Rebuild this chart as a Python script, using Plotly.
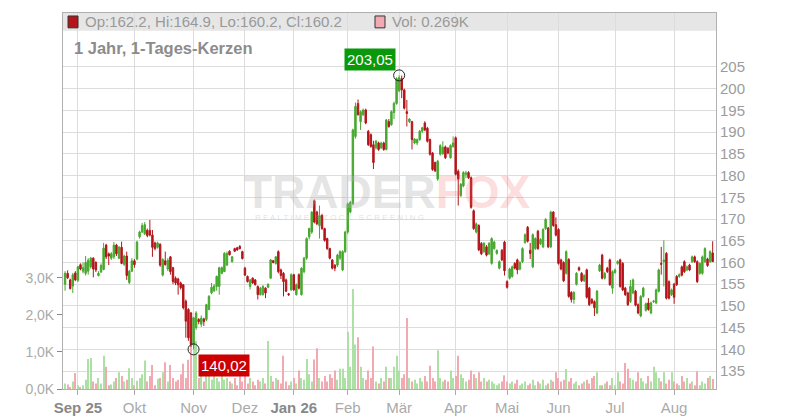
import pandas as pd
import plotly.graph_objects as go

# trading days (weekends and exchange holidays removed)
HOLIDAYS = ['2025-12-24', '2025-12-25', '2025-12-26', '2025-12-31',
            '2026-01-01', '2026-04-03', '2026-04-06', '2026-05-01']
dates = pd.bdate_range('2025-08-25', '2026-08-24')
dates = dates[~dates.isin(pd.to_datetime(HOLIDAYS))]

MONTH_LABELS = ['<b style="color:#888">Sep 25</b>', 'Okt', 'Nov', 'Dez', '<b style="color:#888">Jan 26</b>',
                'Feb', 'Mär', 'Apr', 'Mai', 'Jun', 'Jul', 'Aug']
PRICE_TICKS = [135, 140, 145, 150, 155, 160, 165, 170, 175, 180, 185, 190, 195, 200, 205]
VOL_TICKS = [0, 1, 2, 3]
VOL_LABELS = ['0,0K', '1,0K', '2,0K', '3,0K']

opens = [
    # Aug/Sep
    155.0, 157.5, 156.0, 154.6, 157.6, 155.9, 159.5, 158.0, 157.5, 158.0,
    159.0, 161.0, 160.0, 157.0, 157.8, 158.4, 164.0, 162.0, 161.0, 161.3,
    164.0, 161.0, 163.5, 159.6, 161.5, 155.4, 158.0,
    # Okt/Nov
    160.4, 160.8, 165.9, 167.0, 166.6, 167.4, 167.4, 166.3, 164.5, 163.5,
    164.2, 157.1, 160.4, 158.5, 161.3, 158.8, 156.4, 156.2, 155.3, 154.9,
    151.1, 149.2, 148.4, 141.0, 145.0, 146.9, 145.8, 147.0, 146.9, 149.2,
    153.0, 153.5, 154.5, 154.5, 157.5, 157.9, 159.4, 162.6, 160.2, 163.2,
    163.4, 163.7, 162.5, 158.7, 156.8, 154.5, 156.4, 156.0, 154.5, 152.6,
    152.6, 154.1, 154.3, 156.4, 160.4,
    # Dez/Jan/Feb
    159.8, 162.5, 158.3, 157.5, 156.0, 152.8, 153.7, 157.2, 152.6, 157.2,
    152.6, 157.9, 161.0, 165.9, 167.0, 174.2, 171.6, 168.5, 170.8, 167.8,
    165.5, 163.2, 160.6, 159.4, 159.4, 161.0, 158.3, 162.5, 167.0, 171.6,
    173.5, 189.0, 196.6, 192.4, 194.0, 195.1, 190.2, 189.4, 187.1, 186.4,
    187.5, 186.4, 187.5, 186.0,
    # Feb/Mär/Apr
    192.4, 191.7, 194.5, 196.6, 199.5, 202.3, 199.7, 194.7, 192.4, 192.4,
    187.5, 187.5, 188.3, 190.2, 192.1, 190.9, 188.3, 185.2, 183.0, 179.2,
    184.9, 185.0, 186.6, 186.3, 184.1, 186.7, 188.7, 181.0, 175.4, 177.6,
    180.3, 180.7, 179.5, 171.9, 167.0, 168.5, 164.4, 162.5, 163.6, 162.0,
    # Apr-Jul
    159.8, 163.2, 162.1, 158.7, 162.8, 164.7, 155.6, 156.4, 156.8, 159.8,
    160.6, 158.5, 160.2, 164.6, 168.1, 162.8, 159.0, 163.2, 167.2, 164.3,
    163.6, 167.8, 167.9, 163.6, 171.6, 168.7, 167.6, 160.6, 160.0, 157.5,
    160.7, 153.1, 151.5, 155.0, 158.8, 157.5, 155.8, 158.3, 154.1, 151.5,
    151.0, 148.4, 158.1, 161.7, 156.4, 158.7, 160.6, 154.1, 157.7, 159.8,
    160.6, 159.8, 154.1, 153.0, 151.0, 153.0, 153.4, 150.3, 147.7, 152.2,
    149.0, 150.7, 148.4, 151.0, 150.7, 153.4, 159.8, 160.2,
    # Jul/Aug
    162.1, 155.6, 152.6, 155.0, 156.8, 156.8, 159.0, 160.2, 158.3, 159.4,
    160.2, 161.3, 160.2, 157.5, 157.5, 160.2, 160.8, 160.2, 162.2,
]

highs = [
    158.0, 158.2, 156.3, 157.6, 158.0, 159.2, 159.8, 160.0, 161.5, 161.0,
    161.3, 161.2, 160.3, 158.0, 159.8, 164.5, 164.3, 162.3, 162.4, 164.7,
    164.3, 163.8, 164.8, 161.8, 162.5, 158.3, 161.0,
    160.8, 165.0, 167.3, 169.1, 169.3, 167.8, 169.8, 167.5, 164.8, 164.8,
    164.4, 161.0, 162.5, 161.0, 161.5, 159.0, 156.8, 156.5, 155.6, 155.0,
    151.5, 149.5, 148.6, 147.5, 148.8, 147.2, 147.8, 147.3, 150.5, 152.5,
    155.3, 155.0, 157.0, 159.0, 159.1, 162.4, 162.5, 162.8, 161.5, 163.4,
    163.6, 164.0, 162.7, 159.0, 157.0, 156.2, 156.6, 156.2, 154.7, 154.4,
    154.8, 154.3, 155.2, 160.8, 160.6,
    161.5, 162.8, 158.6, 157.8, 156.3, 153.0, 157.5, 157.4, 155.2, 157.5,
    158.9, 161.3, 165.8, 168.0, 171.8, 174.5, 171.9, 173.1, 171.2, 168.0,
    165.7, 163.4, 160.8, 159.6, 162.0, 162.8, 162.8, 167.3, 173.8, 174.2,
    190.8, 196.8, 197.5, 195.0, 195.4, 195.4, 190.5, 189.7, 188.0, 188.2,
    187.8, 187.8, 187.8, 193.0,
    193.0, 195.0, 197.0, 202.6, 203.05, 203.0, 200.0, 197.4, 193.2, 192.6,
    188.6, 188.5, 190.5, 191.2, 192.5, 191.2, 188.5, 185.4, 183.2, 183.6,
    187.2, 187.9, 186.9, 186.5, 187.2, 189.0, 189.0, 181.4, 178.3, 181.0,
    181.1, 181.0, 179.8, 172.2, 169.2, 168.8, 164.7, 164.7, 164.0, 164.7,
    165.8, 165.0, 163.0, 160.5, 163.1, 165.0, 155.9, 158.8, 159.3, 160.1,
    160.9, 160.3, 163.5, 166.7, 168.4, 164.5, 166.7, 165.8, 167.5, 165.6,
    167.9, 170.2, 168.2, 171.9, 171.8, 170.4, 167.9, 160.9, 160.3, 162.8,
    161.0, 153.4, 153.4, 157.8, 159.1, 157.8, 157.3, 158.6, 154.4, 151.8,
    151.3, 153.7, 159.7, 162.0, 157.8, 159.0, 160.9, 158.2, 158.6, 160.5,
    160.9, 160.1, 154.4, 153.3, 156.0, 156.3, 153.7, 150.6, 152.5, 154.4,
    150.8, 151.8, 151.0, 151.4, 154.0, 158.6, 163.6, 165.1,
    162.4, 155.9, 154.0, 155.3, 157.1, 157.5, 159.3, 160.5, 159.3, 159.7,
    161.6, 161.6, 160.5, 160.0, 161.6, 163.5, 161.1, 162.8, 164.9,
]

lows = [
    153.5, 156.2, 153.8, 153.0, 155.7, 155.5, 158.2, 157.5, 157.0, 157.2,
    158.6, 156.6, 157.8, 156.8, 157.6, 158.2, 160.8, 159.4, 160.6, 160.8,
    161.5, 160.8, 159.6, 159.2, 156.0, 155.0, 157.8,
    158.8, 160.5, 165.5, 166.8, 166.3, 165.8, 166.0, 161.3, 162.8, 163.2,
    159.0, 156.8, 159.3, 158.0, 157.2, 155.0, 154.8, 152.6, 153.8, 149.2,
    142.7, 142.0, 140.6, 140.02, 144.5, 145.8, 145.2, 145.4, 146.5, 149.0,
    152.7, 153.2, 153.5, 152.6, 157.3, 157.8, 159.2, 161.6, 160.0, 162.4,
    162.7, 163.0, 160.7, 156.9, 155.4, 153.8, 155.1, 154.7, 151.5, 152.4,
    152.4, 151.8, 154.1, 156.2, 159.8,
    159.5, 157.5, 156.2, 152.2, 153.2, 152.3, 153.5, 153.5, 152.4, 153.8,
    152.4, 157.5, 160.6, 165.3, 166.6, 169.0, 168.6, 165.5, 167.5, 164.8,
    162.9, 160.7, 158.4, 158.0, 159.0, 160.6, 158.0, 162.2, 166.6, 171.3,
    173.2, 188.5, 193.8, 190.5, 193.7, 191.8, 186.8, 186.4, 181.5, 186.0,
    185.7, 186.1, 185.7, 185.8,
    191.0, 191.5, 193.0, 196.3, 199.2, 197.8, 195.2, 191.3, 192.1, 186.0,
    187.2, 187.0, 188.0, 189.8, 190.2, 187.6, 184.6, 181.1, 180.8, 178.8,
    184.6, 184.8, 183.8, 184.9, 183.9, 186.4, 180.0, 173.1, 175.1, 177.3,
    179.4, 179.2, 172.4, 167.5, 166.7, 162.6, 161.7, 162.2, 161.4, 161.7,
    159.5, 162.9, 161.8, 158.4, 160.3, 157.0, 154.0, 156.1, 156.5, 158.4,
    157.3, 158.2, 159.9, 164.3, 164.6, 160.8, 158.7, 162.9, 162.9, 164.0,
    163.3, 167.5, 163.3, 163.3, 168.2, 166.0, 159.5, 158.2, 155.5, 157.2,
    151.9, 150.8, 150.5, 154.7, 158.0, 155.5, 155.5, 151.7, 150.0, 150.4,
    147.7, 148.1, 157.8, 156.1, 156.1, 157.6, 154.6, 152.8, 157.4, 159.5,
    154.2, 153.4, 152.3, 150.0, 150.7, 152.7, 149.9, 148.1, 147.4, 151.9,
    148.7, 148.9, 148.1, 150.7, 150.4, 153.1, 157.2, 154.5,
    151.5, 151.5, 152.3, 150.5, 154.6, 156.5, 156.8, 157.6, 158.0, 158.0,
    159.9, 159.9, 155.3, 157.2, 157.2, 159.9, 159.0, 159.9, 160.2,
]

closes = [
    157.5, 156.5, 154.0, 157.2, 156.0, 159.0, 158.5, 158.8, 160.0, 160.5,
    161.0, 158.5, 158.3, 157.5, 159.3, 163.3, 161.3, 161.5, 162.0, 164.0,
    162.0, 163.5, 159.8, 161.5, 157.0, 158.0, 160.4,
    159.5, 164.7, 167.0, 168.5, 168.7, 166.2, 166.3, 163.5, 163.2, 164.5,
    159.4, 160.7, 159.5, 160.5, 157.9, 155.6, 155.3, 154.9, 154.2, 149.6,
    146.5, 142.7, 141.2, 147.3, 148.4, 146.4, 147.2, 146.4, 150.3, 152.2,
    154.3, 154.6, 156.8, 158.8, 158.8, 162.1, 162.1, 161.8, 161.3, 162.6,
    162.9, 163.2, 160.9, 157.1, 155.6, 156.0, 155.3, 154.9, 152.6, 154.1,
    154.5, 153.0, 155.0, 160.6, 160.0,
    161.3, 157.9, 157.0, 155.6, 153.4, 152.6, 157.2, 153.7, 154.9, 154.1,
    158.7, 161.0, 165.5, 167.8, 171.6, 169.3, 168.9, 170.8, 167.8, 165.1,
    163.2, 161.0, 158.7, 158.7, 161.7, 162.5, 162.5, 167.0, 173.5, 173.8,
    190.5, 195.9, 194.0, 194.7, 195.1, 192.1, 187.1, 186.7, 183.0, 187.9,
    186.0, 187.5, 186.0, 192.8,
    191.3, 194.7, 196.6, 202.3, 202.5, 199.7, 195.5, 194.3, 193.0, 188.3,
    188.4, 188.3, 190.2, 191.0, 190.5, 187.9, 184.9, 181.4, 181.1, 183.3,
    186.9, 186.5, 184.1, 185.2, 186.9, 187.5, 180.3, 179.2, 178.0, 180.7,
    180.6, 179.5, 172.7, 167.8, 168.9, 162.9, 162.0, 164.4, 161.7, 164.4,
    165.5, 164.7, 162.8, 160.2, 160.6, 158.1, 154.3, 158.5, 159.0, 158.7,
    158.3, 160.0, 163.2, 166.4, 164.9, 162.1, 166.4, 165.5, 163.2, 165.3,
    167.6, 169.9, 163.6, 171.6, 168.5, 166.3, 159.8, 158.5, 155.8, 162.5,
    152.2, 151.5, 153.1, 157.5, 158.3, 155.8, 157.0, 152.0, 150.3, 150.7,
    149.6, 153.4, 159.4, 156.4, 157.5, 157.9, 154.9, 157.9, 158.3, 160.2,
    154.5, 153.7, 152.6, 150.3, 154.5, 156.0, 150.2, 148.4, 152.2, 154.1,
    150.5, 149.2, 150.7, 151.1, 153.7, 158.3, 159.6, 160.6,
    151.8, 151.8, 153.7, 152.0, 154.9, 157.2, 157.1, 157.9, 159.0, 158.3,
    161.3, 160.2, 155.6, 159.8, 161.3, 163.2, 159.3, 162.5, 160.2,
]

# volume in thousands
volumes = [
    0.15, 0.12, 0.05, 0.2, 0.43, 0.1, 0.05, 0.1, 0.25, 0.81,
    0.84, 0.2, 0.15, 0.3, 0.15, 0.9, 0.6, 0.1, 0.12, 0.2,
    0.3, 0.45, 0.35, 0.2, 0.25, 0.56, 0.3,
    0.1, 0.22, 0.3, 0.4, 0.77, 0.2, 0.35, 0.65, 0.1, 0.28,
    0.3, 0.45, 0.72, 0.2, 0.65, 0.3, 0.2, 0.25, 0.4, 0.68,
    0.3, 0.79, 1.52, 1.6, 1.3, 0.3, 0.5, 0.2, 0.35, 0.4,
    0.25, 0.6, 0.3, 0.2, 0.45, 0.25, 0.3, 0.2, 0.15, 0.3,
    0.1, 0.35, 0.2, 0.4, 0.15, 0.3, 0.2, 0.1, 0.25, 0.2,
    0.3, 0.15, 1.3, 0.35, 0.2,
    0.3, 0.25, 0.15, 0.9, 0.2, 0.1, 0.2, 0.3, 0.15, 0.5,
    0.3, 0.25, 0.81, 0.4, 0.2, 0.8, 1.1, 0.3, 0.2, 0.35,
    0.2, 0.4, 0.3, 0.5, 0.25, 0.55, 0.55, 0.3, 1.55, 0.6,
    2.7, 1.2, 1.4, 0.6, 0.3, 0.25, 0.5, 0.3, 1.15, 0.2,
    0.15, 0.3, 0.2, 0.6,
    0.3, 0.3, 0.6, 0.9, 0.5, 0.3, 0.4, 1.92, 0.3, 0.2,
    0.25, 0.15, 0.3, 0.2, 0.35, 0.2, 0.63, 0.3, 0.2, 1.05,
    0.3, 0.2, 0.25, 0.2, 0.5, 0.3, 0.35, 0.9, 0.4, 0.3,
    0.2, 0.25, 0.5, 0.4, 0.3, 0.45, 0.2, 0.3, 0.2, 0.25,
    0.2, 0.15, 0.1, 0.15, 0.2, 0.37, 0.2, 0.15, 0.2, 0.15,
    0.25, 0.1, 0.15, 0.2, 0.1, 0.15, 0.25, 0.1, 0.2, 0.15,
    0.25, 0.1, 0.15, 0.25, 0.2, 0.45, 0.3, 0.2, 0.25, 0.54,
    0.2, 0.3, 0.15, 0.2, 0.1, 0.15, 0.2, 0.25, 0.15, 0.3,
    0.35, 0.45, 0.1, 0.1, 0.15, 0.2, 0.1, 0.3, 0.1, 0.45,
    0.2, 0.15, 0.7, 0.55, 0.3, 0.25, 0.2, 0.45, 0.3, 0.2,
    0.15, 0.35, 0.2, 0.6, 0.45, 0.3, 0.2, 0.45,
    0.15, 0.25, 0.45, 0.2, 0.15, 0.1, 0.35, 0.2, 0.3, 0.15,
    0.2, 0.1, 0.48, 0.1, 0.2, 0.15, 0.3, 0.35, 0.269,
]

UP = '#46a82e'
DOWN = '#b3151a'
UP_VOL = '#ace0a4'
DOWN_VOL = '#f2aab2'

x = list(range(len(dates)))
month_pos = [i for i in range(1, len(dates)) if dates[i].month != dates[i - 1].month]
vol_colors = [UP_VOL if c >= o else DOWN_VOL for o, c in zip(opens, closes)]

fig = go.Figure()

fig.add_trace(go.Bar(x=x, y=volumes, marker=dict(color=vol_colors, line=dict(width=0)),
                     width=0.4, yaxis='y', hoverinfo='skip'))

fig.add_trace(go.Candlestick(x=x, open=opens, high=highs, low=lows, close=closes, yaxis='y2',
                             increasing=dict(fillcolor=UP, line=dict(color=UP, width=1)),
                             decreasing=dict(fillcolor=DOWN, line=dict(color=DOWN, width=1)),
                             whiskerwidth=0))

hi_i = highs.index(max(highs))
lo_i = lows.index(min(lows))
fig.add_trace(go.Scatter(x=[hi_i, lo_i], y=[highs[hi_i], lows[lo_i]], mode='markers', yaxis='y2',
                         marker=dict(symbol='circle-open', size=11, color='#222', line=dict(width=1))))

fig.add_annotation(x=hi_i, y=highs[hi_i], xref='x', yref='y2', text=f"{highs[hi_i]:.2f}".replace('.', ','),
                   showarrow=False, xanchor='right', yanchor='bottom', xshift=-3, yshift=4,
                   bgcolor='#0a990a', borderpad=2, font=dict(color='white', size=15))
fig.add_annotation(x=lo_i, y=lows[lo_i], xref='x', yref='y2', text=f"{lows[lo_i]:.2f}".replace('.', ','),
                   showarrow=False, xanchor='left', yanchor='top', xshift=4, yshift=-5,
                   bgcolor='#cc0000', borderpad=2, font=dict(color='white', size=15))

# watermark
fig.add_annotation(x=0.497, y=0.524, xref='paper', yref='paper', showarrow=False,
                   xanchor='center', yanchor='middle',
                   text='<b><span style="color:rgba(180,180,180,0.35)">TRADER</span>'
                        '<span style="color:rgba(240,80,80,0.2)">FOX</span></b>',
                   font=dict(size=46))
fig.add_annotation(x=0.4227, y=0.455, xref='paper', yref='paper', showarrow=False,
                   xanchor='center', yanchor='middle',
                   text='R E A L T I M E   S T O C K   S C R E E N I N G',
                   font=dict(size=8, color='rgba(180,180,180,0.4)'))

# header band
fig.add_shape(type='rect', xref='paper', yref='paper', x0=0, x1=1, y0=0.9526, y1=1,
              fillcolor='#e6e6e6', line=dict(width=0), layer='below')
fig.add_shape(type='rect', xref='paper', yref='paper', x0=0.0077, x1=0.0230, y0=0.9605, y1=0.9921,
              fillcolor=DOWN, line=dict(color='#333', width=1))
fig.add_shape(type='rect', xref='paper', yref='paper', x0=0.4778, x1=0.4931, y0=0.9605, y1=0.9921,
              fillcolor=DOWN_VOL, line=dict(color='#333', width=1))
fig.add_annotation(x=0.031, y=0.9763, xref='paper', yref='paper', showarrow=False,
                   xanchor='left', yanchor='middle',
                   text=f"Op:{opens[-1]}, Hi:{highs[-1]}, Lo:{lows[-1]}, Cl:{closes[-1]}",
                   font=dict(size=15, color='#999'))
fig.add_annotation(x=0.5, y=0.9763, xref='paper', yref='paper', showarrow=False,
                   xanchor='left', yanchor='middle',
                   text=f"Vol: {volumes[-1]}K", font=dict(size=15, color='#999'))
fig.add_annotation(x=0.0138, y=0.9079, xref='paper', yref='paper', showarrow=False,
                   xanchor='left', yanchor='middle',
                   text='<b>1 Jahr, 1-Tages-Kerzen</b>', font=dict(size=16.5, color='#8c8c8c'))

# the page adds an 8px body margin, so the figure is 8px smaller than the window
fig.update_layout(
    width=792, height=412, margin=dict(l=55, r=84, t=4, b=28),
    paper_bgcolor='white', plot_bgcolor='white', showlegend=False, boxgap=0.2,
    font=dict(family='Liberation Sans, Arial, sans-serif', color='#999'),
    xaxis=dict(range=[-0.8, 253.3], tickvals=month_pos, ticktext=MONTH_LABELS,
               showgrid=True, gridcolor='#dcdcdc', ticks='outside', ticklen=5, tickcolor='#aaa',
               showline=True, linecolor='#b0b0b0', mirror=True, zeroline=False,
               rangeslider=dict(visible=False), tickfont=dict(size=15, color='#aaa')),
    yaxis=dict(range=[0, 10.16], tickvals=VOL_TICKS, ticktext=VOL_LABELS, showgrid=False,
               ticks='outside', ticklen=5, tickcolor='#888', showline=True, linecolor='#b0b0b0',
               zeroline=False, tickfont=dict(size=14, color='#aaa')),
    yaxis2=dict(overlaying='y', side='right', range=[130.9, 217.4], tickvals=PRICE_TICKS,
                showgrid=True, gridcolor='#dcdcdc', showline=True, linecolor='#b0b0b0',
                zeroline=False, tickfont=dict(size=15, color='#9c9c9c')),
)

fig.write_html("out.html")
